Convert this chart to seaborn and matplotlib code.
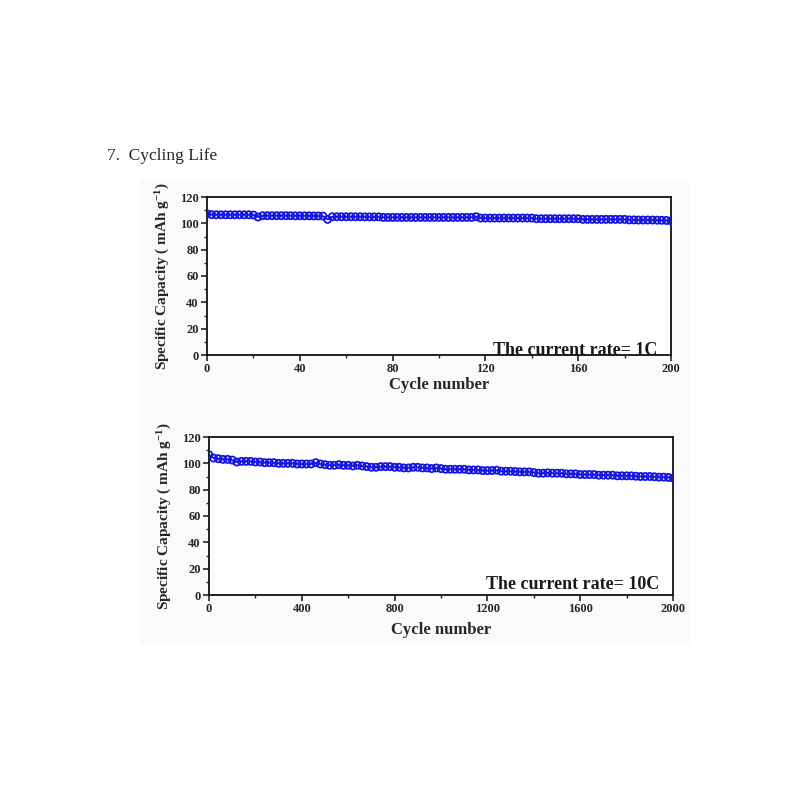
import matplotlib
matplotlib.use("Agg")
import matplotlib.pyplot as plt
import matplotlib.patches as mpatches
from matplotlib.ticker import MultipleLocator
import numpy as np
import pandas as pd
import seaborn as sns

# capacity at 1C, read every 2 cycles (0..200)
cap_1c = [107.2, 106.6, 106.5, 106.5, 106.5, 106.5, 106.5, 106.5, 106.5, 106.5,
          106.3, 104.8, 105.8, 105.8, 105.8, 105.8, 105.8, 105.8, 105.8, 105.7,
          105.7, 105.7, 105.7, 105.6, 105.6, 105.5, 103.0, 105.0, 105.0, 105.0,
          105.0, 105.0, 105.0, 105.0, 104.9, 104.9, 104.9, 104.9, 104.5, 104.5,
          104.5, 104.5, 104.5, 104.5, 104.5, 104.5, 104.5, 104.5, 104.5, 104.5,
          104.5, 104.5, 104.5, 104.5, 104.5, 104.5, 104.5, 104.5, 105.0, 104.0,
          104.0, 104.0, 104.0, 104.0, 104.0, 104.0, 104.0, 104.0, 104.0, 104.0,
          104.0, 103.5, 103.5, 103.5, 103.5, 103.5, 103.5, 103.5, 103.5, 103.5,
          103.5, 103.0, 103.0, 103.0, 103.0, 103.0, 103.0, 103.0, 103.0, 103.0,
          103.0, 102.6, 102.6, 102.5, 102.5, 102.5, 102.5, 102.4, 102.3, 102.2,
          101.8]
cycles_1c = list(range(0, 201, 2))

# capacity at 10C, read every 20 cycles (0..2000)
cap_10c = [106.5, 104.0, 103.5, 103.0, 103.0, 102.5, 101.0, 101.5, 101.5, 101.5,
           101.0, 101.0, 100.5, 100.5, 100.5, 100.0, 100.0, 100.0, 100.0, 99.5,
           99.5, 99.5, 99.5, 100.5, 99.5, 99.0, 98.5, 98.5, 99.0, 98.5,
           98.5, 98.0, 98.5, 98.0, 97.5, 97.0, 97.0, 97.5, 97.5, 97.5,
           97.0, 97.0, 96.5, 96.5, 97.0, 97.0, 96.5, 96.5, 96.0, 96.5,
           96.0, 95.5, 95.5, 95.5, 95.5, 95.5, 95.0, 95.0, 95.0, 94.5,
           94.5, 94.5, 94.8, 94.0, 94.0, 94.0, 93.8, 93.5, 93.5, 93.5,
           93.0, 92.5, 92.5, 92.8, 92.5, 92.5, 92.5, 92.0, 92.0, 92.0,
           91.5, 91.5, 91.5, 91.5, 91.0, 91.0, 91.0, 91.0, 90.5, 90.5,
           90.5, 90.5, 90.2, 90.0, 90.0, 90.0, 89.8, 89.5, 89.5, 89.3,
           88.8]
cycles_10c = list(range(0, 2001, 20))

sns.set_style("ticks")
plt.rcParams["font.family"] = ["Liberation Serif", "DejaVu Serif"]
plt.rcParams["mathtext.fontset"] = "custom"
plt.rcParams["mathtext.rm"] = "Liberation Serif:bold"
plt.rcParams["mathtext.it"] = "Liberation Serif:bold"
plt.rcParams["mathtext.bf"] = "Liberation Serif:bold"

fig = plt.figure(figsize=(8, 8), dpi=100)
# faint grey backdrop of the pasted figure
fig.patches.append(mpatches.Rectangle((140 / 800, 1 - 645 / 800), 550 / 800, 465 / 800,
                                      transform=fig.transFigure, facecolor="#fafafa",
                                      edgecolor="none", zorder=-10))
fig.text(107 / 800, 1 - 156 / 800, "7.  Cycling Life", fontsize=12.5, va="center", ha="left")

blue = "#1414e0"


def panel(rect, x, y, xmax, xmajor, xminor, rate_text, xpad, text_y):
    ax = fig.add_axes(rect, zorder=5)
    ax.set_facecolor("white")
    df = pd.DataFrame({"cycle": x, "cap": y})
    sns.lineplot(data=df, x="cycle", y="cap", ax=ax, color=blue, linewidth=1.2)
    sns.scatterplot(data=df, x="cycle", y="cap", ax=ax, marker="o", s=26,
                    facecolors="none", edgecolor=blue, linewidth=1.3, zorder=3)
    ax.set_xlim(0, xmax)
    ax.set_ylim(0, 120)
    ax.xaxis.set_major_locator(MultipleLocator(xmajor))
    ax.xaxis.set_minor_locator(MultipleLocator(xminor))
    ax.yaxis.set_major_locator(MultipleLocator(20))
    ax.yaxis.set_minor_locator(MultipleLocator(10))
    ax.tick_params(which="major", direction="out", length=4, width=1.2, labelsize=9)
    ax.tick_params(which="minor", direction="out", length=2.5, width=1.0)
    ax.tick_params(axis="both", pad=2)
    for lab in ax.get_xticklabels() + ax.get_yticklabels():
        lab.set_fontweight("bold")
    for sp in ax.spines.values():
        sp.set_visible(True)
        sp.set_linewidth(1.3)
        sp.set_color("#111111")
    ax.set_xlabel("Cycle number", fontsize=12, fontweight="bold", labelpad=xpad)
    ax.set_ylabel("Specific Capacity ( mAh g$^{-1}$)", fontsize=11,
                  fontweight="bold", labelpad=6)
    ax.text(0.97, text_y, rate_text, transform=ax.transAxes, ha="right", va="bottom",
            fontsize=13, fontweight="bold", color="#1a1a1a")
    return ax


panel([207 / 800, 1 - 355 / 800, 464 / 800, 158 / 800], cycles_1c, cap_1c,
      200, 40, 20, "The current rate= 1C", 1, -0.025)
panel([209 / 800, 1 - 595 / 800, 464 / 800, 158 / 800], cycles_10c, cap_10c,
      2000, 400, 200, "The current rate= 10C", 5, 0.015)

fig.savefig("out.png", dpi=100)
